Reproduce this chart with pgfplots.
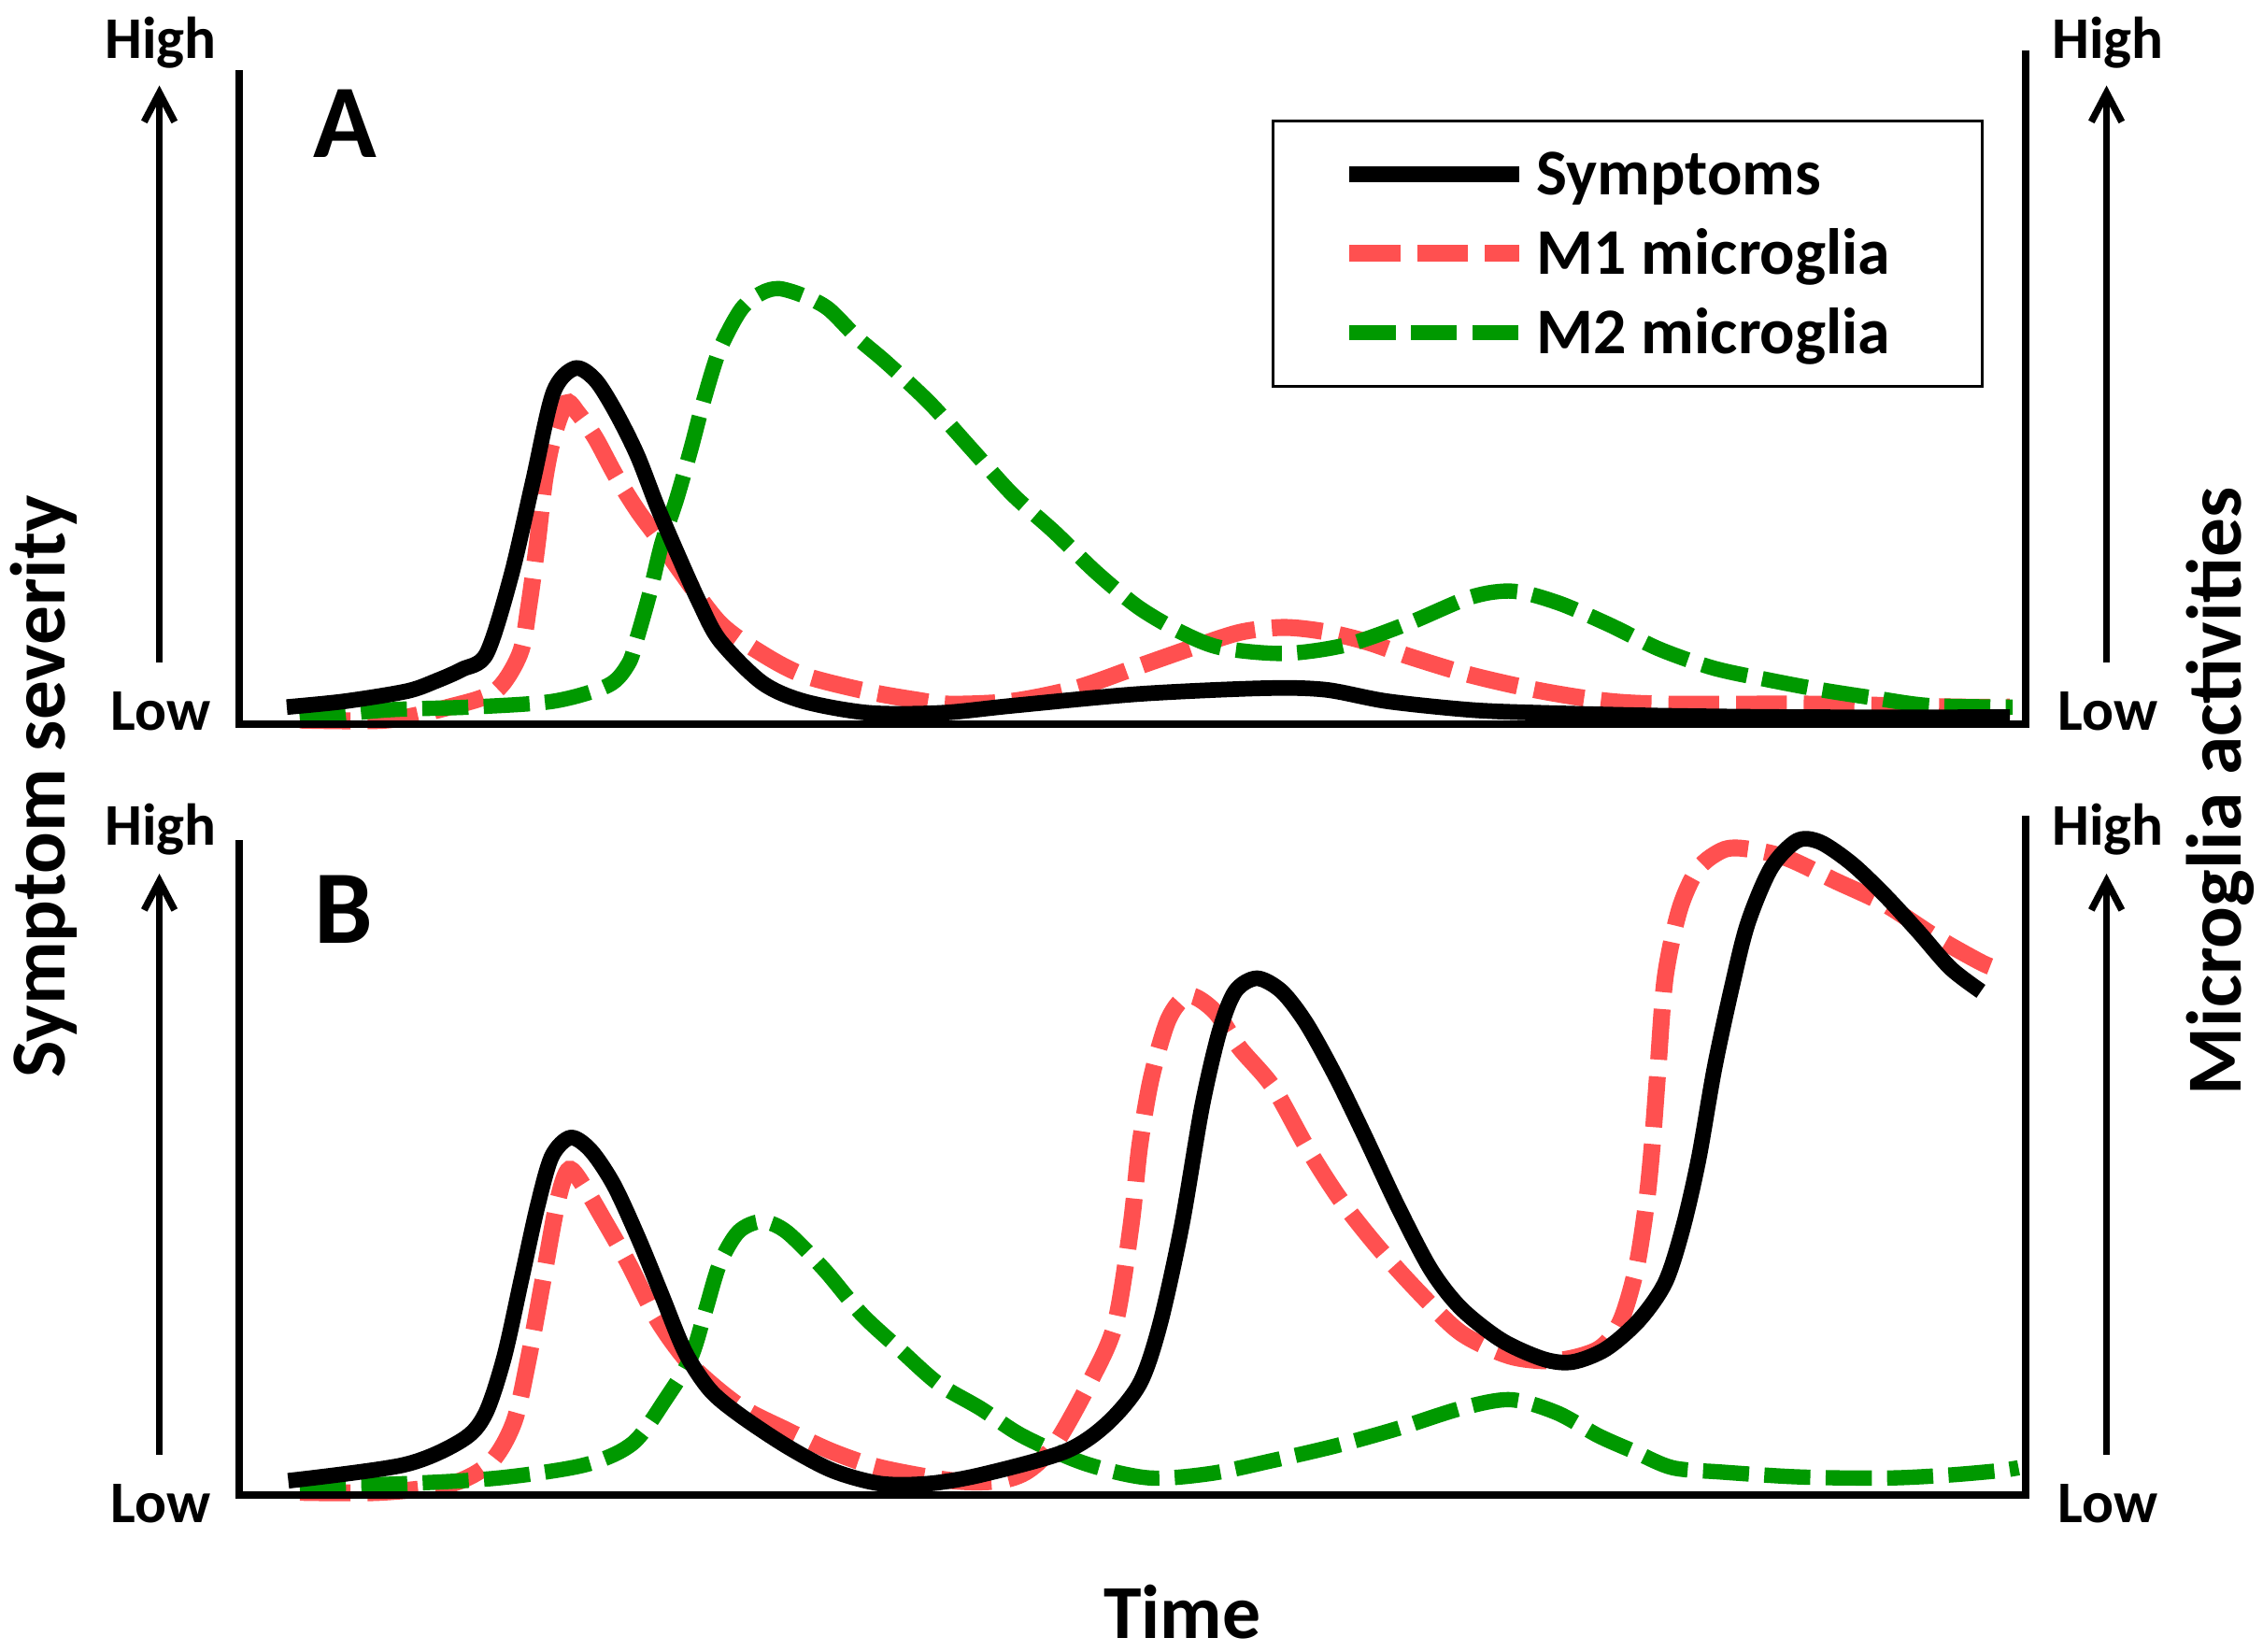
\documentclass[border=0pt]{standalone}
\usepackage{fontspec}
\setmainfont{Carlito}
\usepackage{pgfplots}
\usepackage{pgfplotstable}
\pgfplotsset{compat=1.18}
\usetikzlibrary{arrows.meta}
\definecolor{mred}{RGB}{255,80,80}
\definecolor{mgreen}{RGB}{0,153,0}
\newcommand\F[1]{\fontsize{#1}{#1}\selectfont\bfseries}

\pgfplotstableread{
x y
198 12
238 16
281 23
301 30
319 38
336 49
353 103
368 168
382 229
397 246
411 238
425 216
440 186
454 150
469 115
483 84
497 58
526 29
555 16
600 8
650 8
700 13
786 21
872 25
915 24
958 16
1016 10
1065 8
1150 6
1250 5
1388 5
}\symA

\pgfplotstableread{
x y
207 3
267 3
310 12
342 23
359 49
365 81
371 125
376 168
382 198
391 222
399 215
411 198
425 172
440 148
454 129
469 107
497 70
526 49
555 34
598 23
632 17
656 14
699 16
743 25
786 40
829 55
858 64
887 67
915 64
944 57
973 47
1016 34
1065 23
1111 16
1155 14
1254 14
1353 12
1388 12
}\mOneA

\pgfplotstableread{
x y
207 4
267 10
325 12
382 16
420 27
434 42
440 60
449 92
457 125
467 155
477 190
486 224
497 259
512 287
526 298
538 301
555 296
572 287
592 267
612 250
642 222
671 190
699 159
728 133
757 105
786 81
815 64
843 53
887 49
930 55
973 70
1016 88
1045 92
1076 84
1111 69
1146 52
1183 39
1220 31
1257 24
1296 18
1333 13
1390 12
}\mTwoA

\pgfplotstableread{
x y
199 10
279 21
319 38
335 56
348 95
360 149
371 199
381 234
394 247
408 238
424 214
441 177
457 138
473 99
490 73
510 56
543 34
575 17
608 8
641 8
677 14
735 30
764 49
787 77
801 118
816 186
830 268
842 320
853 348
868 357
885 348
902 326
922 290
942 249
965 200
988 156
1009 129
1037 107
1066 94
1086 92
1109 101
1132 121
1150 147
1162 184
1173 232
1184 295
1196 351
1207 395
1223 433
1241 452
1257 451
1279 436
1302 414
1325 389
1347 364
1368 348
}\symB

\pgfplotstableread{
x y
207 2
263 2
312 8
339 23
355 51
365 95
375 149
385 203
393 225
404 212
417 190
434 160
454 121
477 90
510 62
543 45
575 30
608 19
658 10
690 10
710 17
729 36
752 77
770 118
781 186
787 241
795 288
807 329
821 345
839 334
856 309
879 282
902 241
925 205
951 172
980 140
1009 112
1043 96
1075 93
1104 101
1119 120
1130 157
1137 202
1141 242
1145 295
1150 358
1160 405
1173 433
1191 446
1209 446
1234 440
1268 424
1302 408
1336 386
1370 367
1385 362
}\mOneB

\pgfplotstableread{
x y
207 6
279 8
345 12
404 21
437 36
460 67
477 95
487 127
497 160
510 182
526 189
543 182
569 156
595 125
621 101
648 77
677 60
706 41
749 22
793 12
836 15
879 24
922 34
965 46
1009 60
1043 66
1075 57
1104 41
1129 30
1155 19
1189 16
1234 13
1268 12
1309 12
1347 14
1381 17
1394 19
}\mTwoB

\pgfplotsset{
  panel/.style={x=0.01cm, y=0.01cm, xmin=165, xmax=1398, ymin=0, ymax=452,
    hide axis, clip=false, anchor=south west},
  symst/.style={black, line width=3.07pt, line join=round},
  mones/.style={mred, line width=3.32pt, dash pattern=on 0.35cm off 0.117cm},
  mtwos/.style={mgreen, line width=3.0pt, dash pattern=on 0.318cm off 0.106cm},
}

\begin{document}
\begin{tikzpicture}
\useasboundingbox (0,0) rectangle (15.62cm,-11.40cm);

\begin{axis}[panel, at={(1.65cm,-5.00cm)},
  legend style={at={(axis cs:878,418)}, anchor=north west, draw=black,
    line width=0.6pt, fill=white, inner xsep=0.47cm, inner ysep=0.095cm,
    row sep=0pt, font=\F{12.8},
    nodes={inner xsep=0.065cm, inner ysep=0pt, text height=0.4175cm, text depth=0.1305cm}},
  legend cell align=left,
  legend image code/.code={\draw[#1] (0cm,0cm) -- (1.17cm,0cm);}]
\addplot[mones, smooth, forget plot] table {\mOneA};
\addplot[mtwos, smooth, forget plot] table {\mTwoA};
\addplot[symst, smooth, forget plot] table {\symA};
\addlegendimage{symst}
\addlegendentry{Symptoms}
\addlegendimage{mones}
\addlegendentry{M1 microglia\rule{0.1cm}{0pt}}
\addlegendimage{mtwos}
\addlegendentry{M2 microglia}
\end{axis}

\begin{axis}[panel, at={(1.65cm,-10.32cm)}]
\addplot[mones, smooth] table {\mOneB};
\addplot[mtwos, smooth] table {\mTwoB};
\addplot[symst, smooth] table {\symB};
\end{axis}

% spines
\draw[line width=1.5pt, line join=miter] (1.65,-0.484) -- (1.65,-5.00) -- (13.98,-5.00) -- (13.98,-0.35);
\draw[line width=1.5pt, line join=miter] (1.65,-5.80) -- (1.65,-10.32) -- (13.98,-10.32) -- (13.98,-5.63);

% arrows
\draw[line width=1.35pt, -{Straight Barb[length=0.2cm, width=0.21cm]}] (1.10,-4.575) -- (1.10,-0.59);
\draw[line width=1.35pt, -{Straight Barb[length=0.2cm, width=0.21cm]}] (1.10,-10.04) -- (1.10,-6.03);
\draw[line width=1.35pt, -{Straight Barb[length=0.2cm, width=0.21cm]}] (14.54,-4.575) -- (14.54,-0.59);
\draw[line width=1.35pt, -{Straight Barb[length=0.2cm, width=0.21cm]}] (14.54,-10.04) -- (14.54,-6.03);

% High / Low
\node[anchor=base, inner sep=0pt, font=\F{11.6}] at (1.11,-0.40) {High};
\node[anchor=base, inner sep=0pt, font=\F{11.6}] at (1.11,-5.83) {High};
\node[anchor=base, inner sep=0pt, font=\F{11.6}] at (14.55,-0.40) {High};
\node[anchor=base, inner sep=0pt, font=\F{11.6}] at (14.55,-5.83) {High};
\node[anchor=base, inner sep=0pt, font=\F{11.6}] at (1.11,-5.04) {Low};
\node[anchor=base, inner sep=0pt, font=\F{11.6}] at (1.11,-10.51) {Low};
\node[anchor=base, inner sep=0pt, font=\F{11.6}] at (14.55,-5.04) {Low};
\node[anchor=base, inner sep=0pt, font=\F{11.6}] at (14.55,-10.51) {Low};

% panel letters
\node[anchor=base, inner sep=0pt, font=\F{20.5}] at (2.38,-1.086) {A};
\node[anchor=base, inner sep=0pt, font=\F{20.5}] at (2.37,-6.51) {B};

% axis titles
\node[anchor=base, inner sep=0pt, font=\F{15}] at (8.16,-11.31) {Time};
\node[anchor=base, inner sep=0pt, rotate=90, font=\F{15.3}] at (0.445,-5.43) {Symptom severity};
\node[anchor=base, inner sep=0pt, rotate=90, font=\F{15.3}] at (15.47,-5.46) {Microglia activities};
\end{tikzpicture}
\end{document}
